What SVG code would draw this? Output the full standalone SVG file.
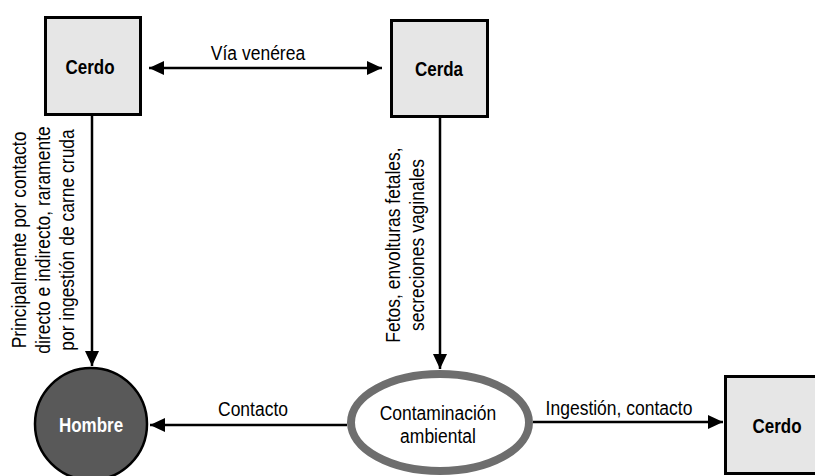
<svg xmlns="http://www.w3.org/2000/svg" width="815" height="476" viewBox="0 0 815 476">
  <style>
    .box { fill: #e6e6e6; stroke: #000; stroke-width: 3; }
    .lbl { font-family: "Liberation Sans", Arial, sans-serif; font-size: 17.5px; fill: #000; text-anchor: middle; }
    .bold { font-family: "Liberation Sans", Arial, sans-serif; font-size: 17px; font-weight: bold; text-anchor: middle; fill: #000; }
    .conn { stroke: #000; stroke-width: 2.5; fill: none; }
  </style>
  <defs>
    <marker id="arr" markerUnits="userSpaceOnUse" markerWidth="16" markerHeight="14" refX="15" refY="7" orient="auto-start-reverse">
      <path d="M0,0 L15,7 L0,14 z" fill="#000"/>
    </marker>
  </defs>
  <rect width="815" height="476" fill="#fff"/>

  <g id="connectors">
    <line class="conn" x1="149" y1="68" x2="382" y2="68" marker-start="url(#arr)" marker-end="url(#arr)"/>
    <line class="conn" x1="92" y1="116" x2="92" y2="366" marker-end="url(#arr)"/>
    <line class="conn" x1="440" y1="118" x2="440" y2="369" marker-end="url(#arr)"/>
    <line class="conn" x1="347" y1="425" x2="150" y2="425" marker-end="url(#arr)"/>
    <line class="conn" x1="533" y1="422" x2="723" y2="422" marker-end="url(#arr)"/>
    <text class="lbl" transform="translate(258,60) scale(1,1.15)">Vía venérea</text>
    <text class="lbl" transform="translate(253,416) scale(1,1.15)">Contacto</text>
    <text class="lbl" transform="translate(619,415) scale(1,1.15)">Ingestión, contacto</text>
    <g>
      <text class="lbl" transform="translate(26,240) rotate(-90) scale(1,1.15)">Principalmente por contacto</text>
      <text class="lbl" transform="translate(50,240) rotate(-90) scale(1,1.15)">directo e indirecto, raramente</text>
      <text class="lbl" transform="translate(74,240) rotate(-90) scale(1,1.15)">por ingestión de carne cruda</text>
    </g>
    <g>
      <text class="lbl" transform="translate(400,245) rotate(-90) scale(1,1.15)">Fetos, envolturas fetales,</text>
      <text class="lbl" transform="translate(424,245) rotate(-90) scale(1,1.15)">secreciones vaginales</text>
    </g>
  </g>

  <g id="cerdo-top">
    <rect class="box" x="45.5" y="17.5" width="95" height="97"/>
    <text class="bold" transform="translate(90,74) scale(1,1.15)">Cerdo</text>
  </g>

  <g id="cerda">
    <rect class="box" x="391.5" y="20.5" width="96" height="96"/>
    <text class="bold" transform="translate(439,76) scale(1,1.15)">Cerda</text>
  </g>

  <g id="hombre">
    <circle cx="91" cy="424" r="56" fill="#595959" stroke="#000" stroke-width="2.5"/>
    <text class="bold" transform="translate(91,432) scale(1,1.15)" style="fill:#fff">Hombre</text>
  </g>

  <g id="contaminacion">
    <ellipse cx="440" cy="422.5" rx="89" ry="48.5" fill="#fff" stroke="#6e6e6e" stroke-width="8"/>
    <text class="lbl" transform="translate(438,420) scale(1,1.15)">Contaminación</text>
    <text class="lbl" transform="translate(438,443) scale(1,1.15)">ambiental</text>
  </g>

  <g id="cerdo-right">
    <rect class="box" x="725.5" y="376.5" width="97" height="97"/>
    <text class="bold" transform="translate(777,433) scale(1,1.15)">Cerdo</text>
  </g>
</svg>
